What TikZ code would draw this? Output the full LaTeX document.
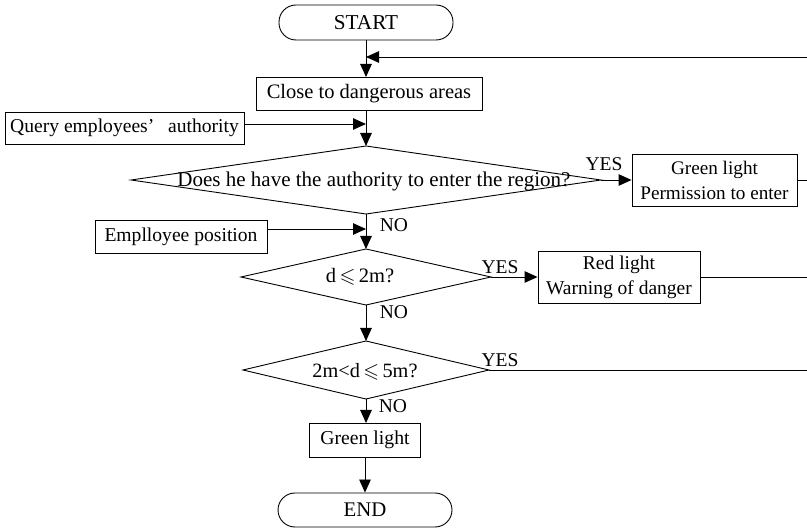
\documentclass[tikz,border=0pt]{standalone}
\usepackage{fontspec}
\usepackage{amssymb}
\setmainfont{Liberation Serif}
\usetikzlibrary{arrows.meta}
\begin{document}
\begin{tikzpicture}[x=1pt,y=-1pt, line width=0.9pt,
  fs/.style={font=\fontsize{#1}{25}\selectfont},
  box/.style={draw, inner sep=0pt, align=center},
  term/.style={box, rounded corners=17pt},
  lbl/.style={inner sep=0pt, fs=19.5},
  arr/.style={-{Triangle[length=13pt,width=11.5pt]}}]
\useasboundingbox (0,0) rectangle (807,529);

% nodes
\node[term, fs=21.2, minimum width=174pt, minimum height=35pt] (start) at (366,22.5) {START};
\node[box, fs=20.5, minimum width=226pt, minimum height=33pt] (close) at (369,93.5) {Close to dangerous areas};
\node[box, fs=19.6, minimum width=239pt, minimum height=32pt] (query) at (124.5,128) {Query employees’\hspace{0.7em}authority};
\node[box, fs=19.2, minimum width=165pt, minimum height=52pt] (perm) at (714.5,180) {Green light\\Permission to enter};
\node[box, fs=19.6, minimum width=172pt, minimum height=33pt] (emp) at (181,236.5) {Emplloyee position};
\node[box, fs=19.5, minimum width=162pt, minimum height=52pt] (red) at (619,277) {Red light\\Warning of danger};
\node[box, fs=19.7, minimum width=111pt, minimum height=34pt] (green) at (365,440) {Green light};
\node[term, fs=20.8, minimum width=174pt, minimum height=34pt] (end) at (365,510) {END};

% diamonds
\coordinate (d1t) at (366,146); \coordinate (d1r) at (601,180);
\coordinate (d1b) at (366,214); \coordinate (d1l) at (131,180);
\draw (d1t) -- (d1r) -- (d1b) -- (d1l) -- cycle;
\node[inner sep=0pt, fs=21] (d1txt) at (374,181) {Does he have the authority to enter the region?};

\coordinate (d2t) at (366,249); \coordinate (d2r) at (491,277);
\coordinate (d2b) at (366,305); \coordinate (d2l) at (241,277);
\draw (d2t) -- (d2r) -- (d2b) -- (d2l) -- cycle;
\node[inner sep=0pt, fs=20.5] (d2txt) at (360,277) {d\,$\leqslant$\,2m?};

\coordinate (d3t) at (366,341); \coordinate (d3r) at (489,370);
\coordinate (d3b) at (366,399); \coordinate (d3l) at (243,370);
\draw (d3t) -- (d3r) -- (d3b) -- (d3l) -- cycle;
\node[inner sep=0pt, fs=20.3] (d3txt) at (365,372) {2m<d\,$\leqslant$\,5m?};

% edge coordinates
\coordinate (fb) at (807,57); \coordinate (fbm) at (366,57);
\coordinate (qm) at (366,124);
\coordinate (em) at (366,229);
\coordinate (pe) at (807,180);
\coordinate (re) at (807,277);
\coordinate (ye) at (807,370);
\coordinate (ct) at (366,77);
\coordinate (cb) at (366,110);
\coordinate (gt) at (366,423);

% connectors
\draw[arr] (fb) -- (fbm);
\draw[arr] (start) -- (ct);
\draw[arr] (query.east |- qm) -- (qm);
\draw[arr] (cb) -- (d1t);
\draw[arr] (d1r) -- (perm.west);
\draw (perm.east) -- (pe);
\draw[arr] (emp.east |- em) -- (em);
\draw[arr] (d1b) -- (d2t);
\draw[arr] (d2r) -- (red.west);
\draw (red.east) -- (re);
\draw[arr] (d2b) -- (d3t);
\draw (d3r) -- (ye);
\draw[arr] (d3b) -- (gt);
\draw[arr] (green) -- (end);

% labels
\node[lbl] (yes1) at (604,164) {YES};
\node[lbl] (no1) at (394,225) {NO};
\node[lbl] (yes2) at (500,267) {YES};
\node[lbl] (no2) at (394,312) {NO};
\node[lbl] (yes3) at (500,360) {YES};
\node[lbl] (no3) at (393,406) {NO};
\end{tikzpicture}
\end{document}
